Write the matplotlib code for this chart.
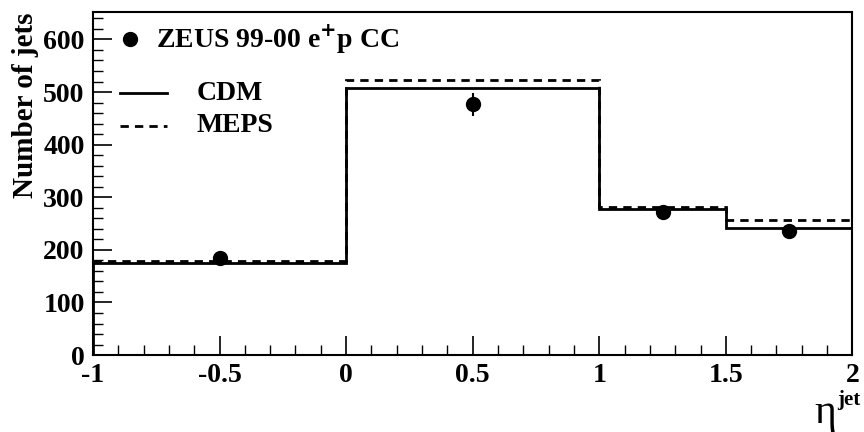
import matplotlib.pyplot as plt
import numpy as np

plt.rcParams['font.family'] = ['Liberation Serif', 'DejaVu Serif']
plt.rcParams['font.weight'] = 'bold'

# bin edges in eta_jet
edges = [-1.0, 0.0, 1.0, 1.5, 2.0]
cdm = [175, 507, 277, 242]
meps = [178, 523, 281, 257]

# data points
data_x = [-0.5, 0.5, 1.25, 1.75]
data_y = [185, 477, 272, 236]
data_err = [8, 22, 14, 12]

fig = plt.figure(figsize=(8.64, 4.32), dpi=100)
ax = fig.add_axes([0.1076, 0.178, 0.879, 0.794])

ax.stairs(cdm, edges, color='black', lw=2.0, baseline=0)
ax.stairs(meps, edges, color='black', lw=2.0, ls=(0, (3, 2.2)), baseline=None)
ax.errorbar(data_x, data_y, yerr=data_err, fmt='o', color='black', ms=10,
            elinewidth=1.5, capsize=0)

ax.set_xlim(-1, 2)
ax.set_ylim(0, 652)
ax.set_xticks([-1, -0.5, 0, 0.5, 1, 1.5, 2])
ax.set_xticklabels(['-1', '-0.5', '0', '0.5', '1', '1.5', '2'])
ax.set_yticks(np.arange(0, 601, 100))
ax.set_xticks(np.arange(-1, 2.01, 0.1), minor=True)
ax.set_yticks(np.arange(0, 651, 20), minor=True)
ax.tick_params(which='both', direction='in')
ax.tick_params(which='major', length=14, width=1.2, labelsize=20, pad=6)
ax.tick_params(which='minor', length=7, width=1.0)
for s in ax.spines.values():
    s.set_linewidth(1.5)

fig.text(0.029, 1 - 13 / 432, 'Number of jets', fontsize=21, fontweight='bold',
         rotation=90, ha='center', va='top')
fig.text(0.955, 0.0, 'η', fontsize=30, fontweight='normal', ha='center', va='bottom')
fig.text(0.969, 0.052, 'jet', fontsize=15, fontweight='bold', ha='left', va='bottom')

# legend drawn by hand
ax.plot([-0.855], [600], 'o', color='black', ms=10)
ax.text(-0.75, 600, r'ZEUS 99-00 e$^{\mathbf{+}}$p CC', fontsize=20, va='center')
ax.plot([-0.893, -0.708], [498, 498], color='black', lw=2.0)
ax.text(-0.59, 498, 'CDM', fontsize=20, va='center')
ax.plot([-0.893, -0.708], [436, 436], color='black', lw=2.0, ls=(0, (3, 2.2)))
ax.text(-0.59, 436, 'MEPS', fontsize=20, va='center')

plt.savefig('out.png', dpi=100)
